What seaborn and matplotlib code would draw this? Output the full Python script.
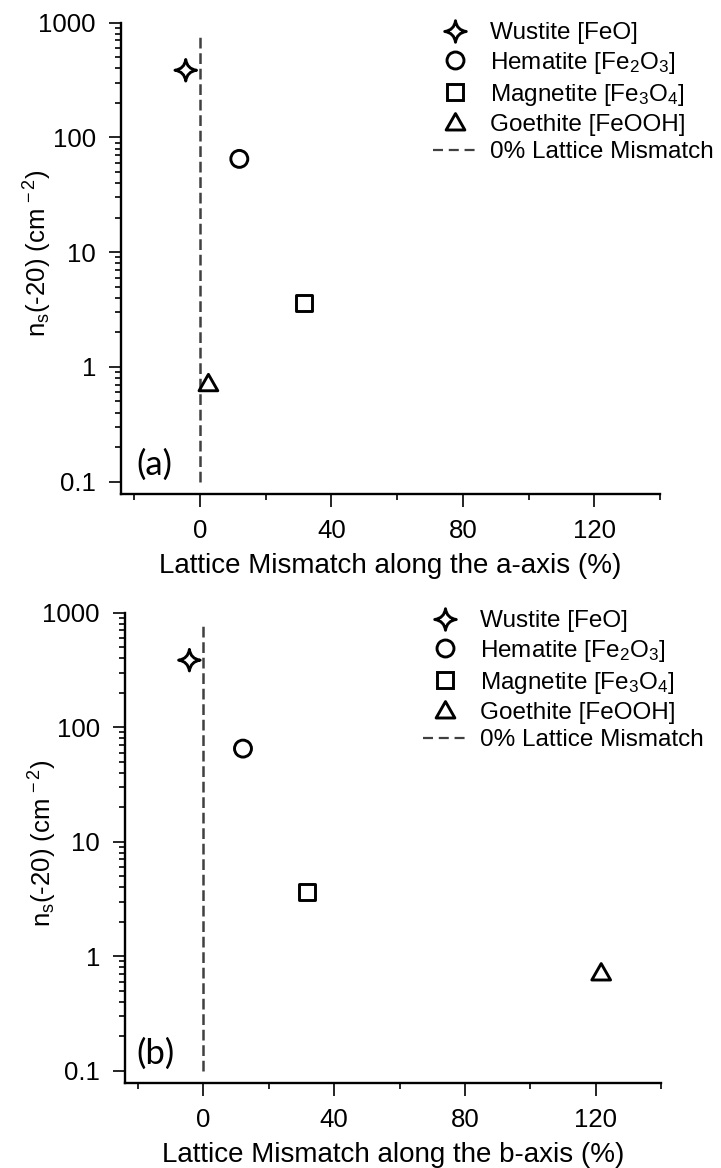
import numpy as np
import pandas as pd
import matplotlib
matplotlib.use("Agg")
import matplotlib.pyplot as plt
import seaborn as sns
from matplotlib.path import Path
from matplotlib.lines import Line2D
from matplotlib.ticker import FixedLocator, FixedFormatter, NullFormatter

# ---------------- data ----------------
minerals = ["Wustite [FeO]", r"Hematite [Fe$_2$O$_3$]",
            r"Magnetite [Fe$_3$O$_4$]", "Goethite [FeOOH]"]
ns20 = [385, 65, 3.6, 0.72]
mismatch_a = [-4.3, 12.0, 31.6, 2.6]
mismatch_b = [-4.3, 12.1, 31.8, 121.7]
zero_x = [0, 0]
zero_y = [0.1, 800]
x_major = [0, 40, 80, 120]
x_minor = [-20, 20, 60, 100, 140]
y_major = [0.1, 1, 10, 100, 1000]
y_labels = ["0.1", "1", "10", "100", "1000"]
zero_label = "0% Lattice Mismatch"

# ---------------- style ----------------
sns.set_style("ticks")
plt.rcParams["font.family"] = ["Liberation Sans", "DejaVu Sans"]
plt.rcParams["mathtext.fontset"] = "custom"
plt.rcParams["mathtext.rm"] = "Liberation Sans"
plt.rcParams["mathtext.it"] = "Liberation Sans:italic"
plt.rcParams["mathtext.bf"] = "Liberation Sans:bold"
for k in ["text.color", "axes.labelcolor", "xtick.color", "ytick.color", "axes.edgecolor"]:
    plt.rcParams[k] = "black"

c = 0.12
star = Path([(0, 1), (c, c), (1, 0), (c, -c), (0, -1), (-c, -c), (-1, 0), (-c, c), (0, 1), (0, 1)],
            [Path.MOVETO, Path.CURVE3, Path.CURVE3, Path.CURVE3, Path.CURVE3,
             Path.CURVE3, Path.CURVE3, Path.CURVE3, Path.CURVE3, Path.CLOSEPOLY])
tri = Path([(-1, -0.8), (1, -0.8), (0, 0.95), (-1, -0.8)],
           [Path.MOVETO, Path.LINETO, Path.LINETO, Path.CLOSEPOLY])
marker_list = [star, "o", "s", tri]
ms_list = [15.5, 12.2, 11.5, 13.5]
MEW = 2.1
DASH_C = "#404040"

fig = plt.figure(figsize=(7.21, 11.68), dpi=100)
ax1 = fig.add_axes([121 / 721, 1 - 494 / 1168, (660 - 121) / 721, (494 - 22.7) / 1168])
ax2 = fig.add_axes([125 / 721, 1 - 1083 / 1168, (661 - 125) / 721, (1083 - 612.7) / 1168])

minor_y = [m * 10.0 ** e for e in range(-1, 3) for m in range(2, 10)]


def draw(ax, xs, xlabel, plabel, plabel_xy, leg_anchor):
    df = pd.DataFrame({"x": xs, "y": ns20, "mineral": minerals})
    ax.plot(zero_x, zero_y, color=DASH_C, lw=1.8, dashes=(4.3, 1.9), zorder=2)
    sns.scatterplot(data=df, x="x", y="y", style="mineral",
                    markers=dict(zip(minerals, marker_list)),
                    size="mineral", sizes=dict(zip(minerals, [m ** 2 for m in ms_list])),
                    facecolor="none", edgecolor="black", linewidth=MEW,
                    legend=False, ax=ax, zorder=3)
    ax.set_yscale("log")
    ax.set_xlim(-24, 140)
    ax.set_ylim(0.078, 1000)
    ax.xaxis.set_major_locator(FixedLocator(x_major))
    ax.xaxis.set_minor_locator(FixedLocator(x_minor))
    ax.yaxis.set_major_locator(FixedLocator(y_major))
    ax.yaxis.set_major_formatter(FixedFormatter(y_labels))
    ax.yaxis.set_minor_locator(FixedLocator(minor_y))
    ax.yaxis.set_minor_formatter(NullFormatter())
    for s in ["top", "right"]:
        ax.spines[s].set_visible(False)
    for s in ["left", "bottom"]:
        ax.spines[s].set_linewidth(1.7)
        ax.spines[s].set_color("black")
    ax.tick_params(which="major", direction="out", length=9, width=1.2,
                   labelsize=18.5, pad=9, color="black", labelcolor="black")
    ax.tick_params(which="minor", direction="out", length=4.5, width=1.2, color="black")
    ax.set_xlabel(xlabel, fontsize=20, labelpad=7)
    ax.set_ylabel(r"n$_\mathrm{s}$(-20) (cm$^{\,-2}$)", fontsize=18.5)
    ax.yaxis.set_label_coords(-0.124, 0.51)
    ax.text(plabel_xy[0], plabel_xy[1], plabel, transform=ax.transAxes,
            fontsize=25, ha="left", va="bottom", family=["Lato", "DejaVu Sans"])
    handles = [Line2D([], [], marker=m, ms=s, mfc="none", mec="black", mew=MEW, ls="none")
               for m, s in zip(marker_list, ms_list)]
    handles.append(Line2D([], [], color=DASH_C, lw=1.6, dashes=(4.5, 2.6)))
    fig.legend(handles, minerals + [zero_label], loc="upper left",
               bbox_to_anchor=leg_anchor, bbox_transform=fig.transFigure,
               frameon=False, fontsize=17.5, handlelength=1.85, handletextpad=0.5,
               labelspacing=0.24, borderpad=0, borderaxespad=0)


draw(ax1, mismatch_a, "Lattice Mismatch along the a-axis (%)", "(a)", (0.028, 0.027),
     (433 / 721, 1 - 22 / 1168))
draw(ax2, mismatch_b, "Lattice Mismatch along the b-axis (%)", "(b)", (0.022, 0.027),
     (423 / 721, 1 - 610 / 1168))

fig.savefig("out.png", dpi=100)
